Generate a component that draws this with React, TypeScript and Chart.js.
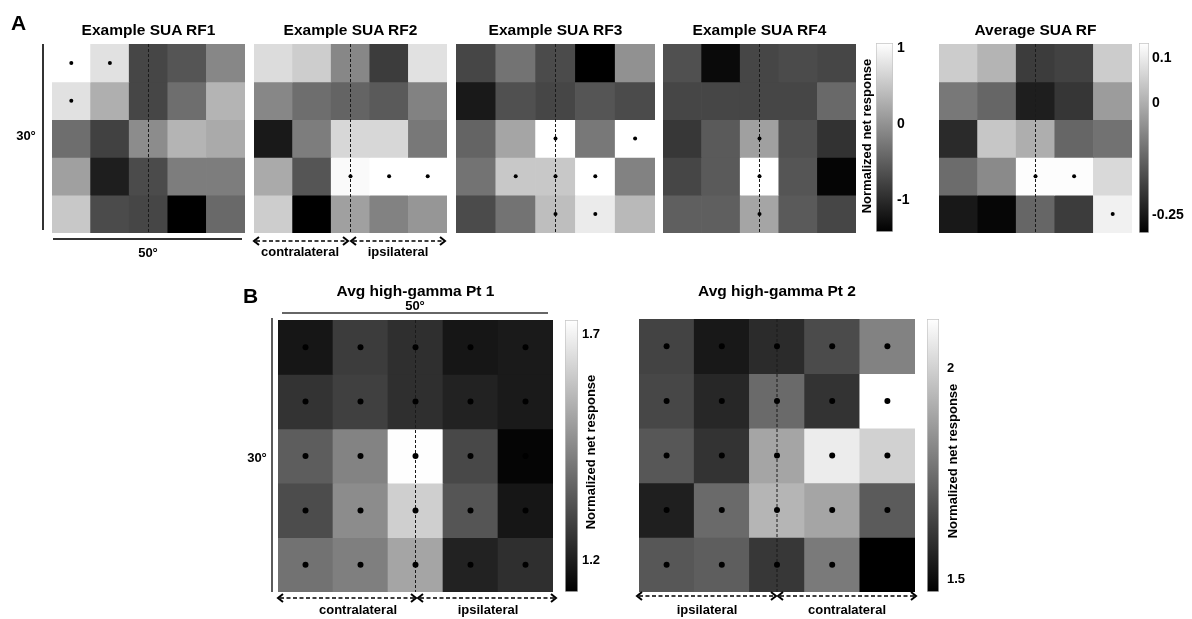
import React, { useEffect, useRef } from 'react';
import { Chart, registerables } from 'chart.js';

Chart.register(...registerables);

const FONT = '"Liberation Sans", Arial, Helvetica, sans-serif';

// ---------- data ----------
const columns = ['c1', 'c2', 'c3', 'c4', 'c5'];

// Panel A – normalized net response, rows top → bottom
const rf1Values = [
  [1.07, 0.78, -0.74, -0.59, -0.10],
  [0.78, 0.29, -0.74, -0.35, 0.34],
  [-0.35, -0.79, -0.05, 0.34, 0.24],
  [0.14, -1.13, -0.69, -0.20, -0.20],
  [0.53, -0.69, -0.74, -1.42, -0.39],
];
const rf1Sig = [
  [1, 1, 0, 0, 0],
  [1, 0, 0, 0, 0],
  [0, 0, 0, 0, 0],
  [0, 0, 0, 0, 0],
  [0, 0, 0, 0, 0],
];

const rf2Values = [
  [0.73, 0.58, -0.10, -0.83, 0.78],
  [-0.10, -0.35, -0.44, -0.54, -0.15],
  [-1.18, -0.20, 0.68, 0.68, -0.25],
  [0.24, -0.59, 1.02, 1.07, 1.07],
  [0.58, -1.42, 0.14, -0.15, 0.04],
];
const rf2Sig = [
  [0, 0, 0, 0, 0],
  [0, 0, 0, 0, 0],
  [0, 0, 0, 0, 0],
  [0, 0, 1, 1, 1],
  [0, 0, 0, 0, 0],
];

const rf3Values = [
  [-0.74, -0.30, -0.69, -1.42, 0.00],
  [-1.18, -0.64, -0.74, -0.59, -0.69],
  [-0.44, 0.19, 1.07, -0.25, 1.07],
  [-0.30, 0.53, 0.53, 1.07, -0.15],
  [-0.69, -0.30, 0.44, 0.87, 0.39],
];
const rf3Sig = [
  [0, 0, 0, 0, 0],
  [0, 0, 0, 0, 0],
  [0, 0, 1, 0, 1],
  [0, 1, 1, 1, 0],
  [0, 0, 1, 1, 0],
];

const rf4Values = [
  [-0.64, -1.32, -0.74, -0.69, -0.74],
  [-0.74, -0.74, -0.74, -0.74, -0.39],
  [-0.88, -0.54, 0.14, -0.64, -0.93],
  [-0.74, -0.54, 1.07, -0.59, -1.37],
  [-0.49, -0.49, 0.19, -0.54, -0.74],
];
const rf4Sig = [
  [0, 0, 0, 0, 0],
  [0, 0, 0, 0, 0],
  [0, 0, 1, 0, 0],
  [0, 0, 1, 0, 0],
  [0, 0, 1, 0, 0],
];

const avgValues = [
  [0.05, 0.01, -0.19, -0.18, 0.05],
  [-0.09, -0.12, -0.24, -0.20, -0.03],
  [-0.22, 0.04, 0.0, -0.12, -0.10],
  [-0.11, -0.06, 0.13, 0.13, 0.07],
  [-0.25, -0.28, -0.12, -0.19, 0.11],
];
const avgSig = [
  [0, 0, 0, 0, 0],
  [0, 0, 0, 0, 0],
  [0, 0, 0, 0, 0],
  [0, 0, 1, 1, 0],
  [0, 0, 0, 0, 1],
];

// Panel B – high-gamma
const pt1Values = [
  [1.18, 1.27, 1.24, 1.18, 1.19],
  [1.25, 1.28, 1.24, 1.21, 1.19],
  [1.35, 1.44, 1.73, 1.30, 1.14],
  [1.31, 1.46, 1.62, 1.33, 1.18],
  [1.40, 1.43, 1.52, 1.21, 1.24],
];
const pt1Sig = [
  [1, 1, 1, 1, 1],
  [1, 1, 1, 1, 1],
  [1, 1, 1, 1, 1],
  [1, 1, 1, 1, 1],
  [1, 1, 1, 1, 1],
];

const pt2Values = [
  [1.64, 1.53, 1.58, 1.66, 1.80],
  [1.65, 1.57, 1.74, 1.60, 2.12],
  [1.69, 1.60, 1.89, 2.07, 2.00],
  [1.55, 1.74, 1.93, 1.89, 1.70],
  [1.69, 1.71, 1.61, 1.78, 1.47],
];
const pt2Sig = [
  [1, 1, 1, 1, 1],
  [1, 1, 1, 1, 1],
  [1, 1, 1, 1, 1],
  [1, 1, 1, 1, 1],
  [1, 1, 1, 1, 1],
];

// colour ranges and colour-bar ticks
const rfRange = [-1.42, 1.07];
const rfTicks = [-1, 0, 1];
const rfTickLabels = ['-1', '0', '1'];
const avgRange = [-0.29, 0.134];
const avgTicks = [-0.25, 0, 0.1];
const avgTickLabels = ['-0.25', '0', '0.1'];
const pt1Range = [1.129, 1.733];
const pt1Ticks = [1.2, 1.7];
const pt1TickLabels = ['1.2', '1.7'];
const pt2Range = [1.47, 2.118];
const pt2Ticks = [1.5, 2];
const pt2TickLabels = ['1.5', '2'];

// ---------- components ----------
type Box = { x: number; y: number; w: number; h: number };

function grayOf(v: number, lo: number, hi: number) {
  const t = Math.min(1, Math.max(0, (v - lo) / (hi - lo)));
  const g = Math.round(t * 255);
  return `rgb(${g},${g},${g})`;
}

function Heatmap({ values, sig, range, box, dotRadius }: { values: number[][]; sig: number[][]; range: number[]; box: Box; dotRadius: number }) {
  const ref = useRef<HTMLCanvasElement>(null);
  useEffect(() => {
    const [lo, hi] = range;
    const rowSets: any[] = values.map((row, r) => ({
      type: 'bar',
      data: row.map(() => [r, r + 1]),
      backgroundColor: row.map((v) => grayOf(v, lo, hi)),
      borderWidth: 0,
      barPercentage: 1,
      categoryPercentage: 1,
      grouped: false,
      order: 3,
    }));
    const dots: any[] = [];
    sig.forEach((row, r) => row.forEach((s, c) => { if (s) dots.push({ x: columns[c], y: r + 0.5 }); }));
    const midLine = {
      type: 'line',
      data: [{ x: columns[2], y: 0 }, { x: columns[2], y: 5 }],
      borderColor: '#1a1a1a',
      borderWidth: 1,
      borderDash: [3, 2],
      pointRadius: 0,
      fill: false,
      order: 2,
    };
    const dotSet = {
      type: 'scatter',
      data: dots,
      pointRadius: dotRadius,
      pointBackgroundColor: '#000',
      pointBorderWidth: 0,
      order: 1,
    };
    const chart = new Chart(ref.current as HTMLCanvasElement, {
      type: 'bar',
      data: { labels: columns, datasets: [...rowSets, midLine, dotSet] as any },
      options: {
        animation: false,
        responsive: false,
        events: [],
        layout: { padding: 0, autoPadding: false },
        plugins: { legend: { display: false }, tooltip: { enabled: false }, title: { display: false } },
        scales: {
          x: { type: 'category', display: false, offset: true },
          y: { type: 'linear', min: 0, max: 5, reverse: true, display: false },
        },
      } as any,
    });
    return () => chart.destroy();
  }, []);
  return (
    <canvas ref={ref} width={box.w} height={box.h}
      style={{ position: 'absolute', left: box.x, top: box.y, width: box.w, height: box.h }} />
  );
}

const PADV = 14;
const AXW = 50;

function ColorBar({ range, ticks, tickLabels, box, fontSize, pad }: { range: number[]; ticks: number[]; tickLabels: string[]; box: Box; fontSize: number; pad: number }) {
  const ref = useRef<HTMLCanvasElement>(null);
  useEffect(() => {
    const [lo, hi] = range;
    const chart = new Chart(ref.current as HTMLCanvasElement, {
      type: 'bar',
      data: {
        labels: ['bar'],
        datasets: [{
          data: [[lo, hi]],
          backgroundColor: (ctx: any) => {
            const ca = ctx.chart.chartArea;
            if (!ca) return '#808080';
            const g = ctx.chart.ctx.createLinearGradient(0, ca.bottom, 0, ca.top);
            g.addColorStop(0, '#000');
            g.addColorStop(1, '#fff');
            return g;
          },
          borderColor: '#c4c4c4',
          borderWidth: 1,
          borderSkipped: false,
          barPercentage: 1,
          categoryPercentage: 1,
        }] as any,
      },
      options: {
        animation: false,
        responsive: false,
        events: [],
        layout: { padding: { top: PADV, bottom: PADV, left: 0, right: 0 }, autoPadding: false },
        plugins: { legend: { display: false }, tooltip: { enabled: false } },
        scales: {
          x: { display: false },
          y: {
            type: 'linear',
            min: lo,
            max: hi,
            position: 'right',
            grid: { display: false, drawTicks: false },
            border: { display: false },
            afterBuildTicks: (s: any) => { s.ticks = ticks.map((v) => ({ value: v })); },
            afterFit: (s: any) => { s.width = AXW; s.paddingTop = 0; s.paddingBottom = 0; },
            ticks: {
              padding: pad,
              color: '#000',
              font: { family: FONT, size: fontSize, weight: 'bold' },
              callback: (_v: any, i: number) => tickLabels[i],
            },
          },
        },
      } as any,
    });
    return () => chart.destroy();
  }, []);
  const W = box.w + AXW;
  const H = box.h + 2 * PADV;
  return (
    <canvas ref={ref} width={W} height={H}
      style={{ position: 'absolute', left: box.x, top: box.y - PADV, width: W, height: H }} />
  );
}

function Arrow({ x1, x2, y }: { x1: number; x2: number; y: number }) {
  return (
    <g stroke="#000" fill="none">
      <line x1={x1 + 2} x2={x2 - 2} y1={y} y2={y} strokeWidth={1.6} strokeDasharray="4 2.5" />
      <polyline points={`${x1 + 5},${y - 4} ${x1},${y} ${x1 + 5},${y + 4}`} strokeWidth={2} />
      <polyline points={`${x2 - 5},${y - 4} ${x2},${y} ${x2 - 5},${y + 4}`} strokeWidth={2} />
    </g>
  );
}

const rf1Box = { x: 52, y: 44, w: 193, h: 189 };
const rf2Box = { x: 254, y: 44, w: 193, h: 189 };
const rf3Box = { x: 456, y: 44, w: 199, h: 189 };
const rf4Box = { x: 663, y: 44, w: 193, h: 189 };
const avgBox = { x: 939, y: 44, w: 193, h: 189 };
const pt1Box = { x: 278, y: 320, w: 275, h: 272 };
const pt2Box = { x: 639, y: 319, w: 276, h: 273 };

export default function App() {
  const t = (x: number, y: number, s: string, size: number, anchor: string = 'middle') => (
    <text x={x} y={y} fontSize={size} fontWeight="bold" fontFamily={FONT} textAnchor={anchor as any} fill="#000">{s}</text>
  );
  const vlabel = (x: number, y: number) => (
    <text transform={`translate(${x},${y}) rotate(-90)`} fontSize={13} fontWeight="bold" fontFamily={FONT}
      textAnchor="middle" dominantBaseline="central" fill="#000">Normalized net response</text>
  );
  return (
    <div style={{ position: 'absolute', left: 0, top: 0, width: 1192, height: 619, background: '#fff', overflow: 'hidden' }}>
      <Heatmap values={rf1Values} sig={rf1Sig} range={rfRange} box={rf1Box} dotRadius={2} />
      <Heatmap values={rf2Values} sig={rf2Sig} range={rfRange} box={rf2Box} dotRadius={2} />
      <Heatmap values={rf3Values} sig={rf3Sig} range={rfRange} box={rf3Box} dotRadius={2} />
      <Heatmap values={rf4Values} sig={rf4Sig} range={rfRange} box={rf4Box} dotRadius={2} />
      <Heatmap values={avgValues} sig={avgSig} range={avgRange} box={avgBox} dotRadius={2} />
      <Heatmap values={pt1Values} sig={pt1Sig} range={pt1Range} box={pt1Box} dotRadius={3} />
      <Heatmap values={pt2Values} sig={pt2Sig} range={pt2Range} box={pt2Box} dotRadius={3} />

      <ColorBar range={rfRange} ticks={rfTicks} tickLabels={rfTickLabels} box={{ x: 876, y: 43, w: 17, h: 189 }} fontSize={14} pad={4} />
      <ColorBar range={avgRange} ticks={avgTicks} tickLabels={avgTickLabels} box={{ x: 1139, y: 43, w: 10, h: 190 }} fontSize={14} pad={3} />
      <ColorBar range={pt1Range} ticks={pt1Ticks} tickLabels={pt1TickLabels} box={{ x: 565, y: 320, w: 13, h: 272 }} fontSize={13} pad={4} />
      <ColorBar range={pt2Range} ticks={pt2Ticks} tickLabels={pt2TickLabels} box={{ x: 927, y: 319, w: 12, h: 273 }} fontSize={13} pad={8} />

      <svg width={1192} height={619} style={{ position: 'absolute', left: 0, top: 0, pointerEvents: 'none' }}>
        {t(11, 30, 'A', 21, 'start')}
        {t(243, 303, 'B', 21, 'start')}

        {t(148.5, 35, 'Example SUA RF1', 15.5)}
        {t(350.5, 35, 'Example SUA RF2', 15.5)}
        {t(555.5, 35, 'Example SUA RF3', 15.5)}
        {t(759.5, 35, 'Example SUA RF4', 15.5)}
        {t(1035.5, 35, 'Average SUA RF', 15.5)}
        {t(415.5, 296, 'Avg high-gamma Pt 1', 15.5)}
        {t(777, 296, 'Avg high-gamma Pt 2', 15.5)}

        <line x1={43} x2={43} y1={44} y2={230} stroke="#333" strokeWidth={2} />
        <line x1={53} x2={242} y1={239} y2={239} stroke="#333" strokeWidth={2} />
        {t(26, 140, '30°', 13)}
        {t(148, 257, '50°', 13)}

        <Arrow x1={254} x2={348} y={241} />
        <Arrow x1={351} x2={445} y={241} />
        {t(300, 256, 'contralateral', 13)}
        {t(398, 256, 'ipsilateral', 13)}

        <line x1={272} x2={272} y1={318} y2={592} stroke="#333" strokeWidth={1.6} />
        <line x1={282} x2={548} y1={313} y2={313} stroke="#333" strokeWidth={1.6} />
        {t(415, 310, '50°', 13)}
        {t(257, 462, '30°', 13)}

        <Arrow x1={278} x2={416} y={598} />
        <Arrow x1={418} x2={556} y={598} />
        {t(358, 614, 'contralateral', 13)}
        {t(488, 614, 'ipsilateral', 13)}

        <Arrow x1={637} x2={776} y={596} />
        <Arrow x1={778} x2={916} y={596} />
        {t(707, 614, 'ipsilateral', 13)}
        {t(847, 614, 'contralateral', 13)}

        {vlabel(866, 136)}
        {vlabel(590, 452)}
        {vlabel(952, 461)}
      </svg>
    </div>
  );
}
